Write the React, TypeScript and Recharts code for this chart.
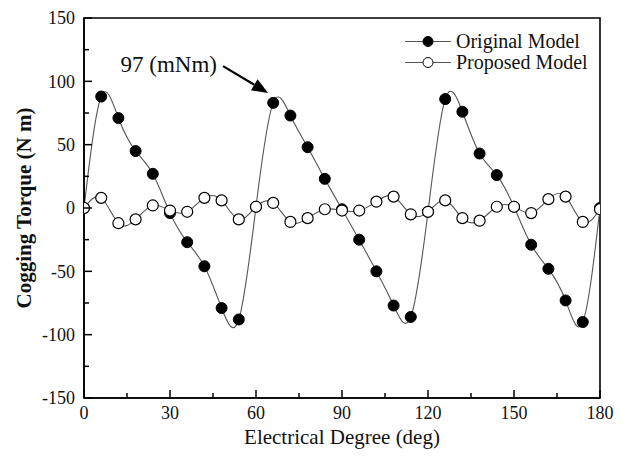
import React from 'react';
import { LineChart, Line, XAxis, YAxis, ReferenceArea, ReferenceLine, Legend } from 'recharts';

const FONT = '"Liberation Serif", "Times New Roman", serif';

const degrees = [0, 6, 12, 18, 24, 30, 36, 42, 48, 54, 60, 66, 72, 78, 84, 90, 96, 102, 108, 114, 120, 126, 132, 138, 144, 150, 156, 162, 168, 174, 180];
const originalModel = [0, 88, 71, 45, 27, -4, -27, -46, -79, -88, 1, 83, 73, 48, 23, -1, -25, -50, -77, -86, -3, 86, 76, 43, 26, 1, -29, -48, -73, -90, 0];
const proposedModel = [0, 8, -12, -9, 2, -2, -3, 8, 6, -9, 1, 4, -11, -8, -1, -2, -2, 5, 9, -5, -3, 6, -8, -10, 1, 1, -4, 7, 9, -11, -1];

const xTicks = [0, 15, 30, 45, 60, 75, 90, 105, 120, 135, 150, 165, 180];
const yTicks = [-150, -125, -100, -75, -50, -25, 0, 25, 50, 75, 100, 125, 150];
const xLabelStep = 30;
const yLabelStep = 50;

const annotationText = '97 (mNm)';
const arrowFrom = { x: 48.5, y: 112 };
const arrowTo = { x: 64.2, y: 90.8 };

const seriesNames = ['Original Model', 'Proposed Model'];

const data = degrees.map((d, i) => ({ deg: d, original: originalModel[i], proposed: proposedModel[i] }));

const X_TICK_MARGIN = 8;
const Y_TICK_MARGIN = 9;

const XTick = (props: any) => {
  const { x, y, payload } = props;
  const v = payload.value;
  const major = v % xLabelStep === 0;
  const axisY = y - X_TICK_MARGIN;
  return (
    <g>
      <line x1={x} y1={axisY} x2={x} y2={axisY - (major ? 8 : 5)} stroke="#000" strokeWidth={1.5} />
      {major && (
        <text x={x} y={y} dy="0.72em" textAnchor="middle" fontFamily={FONT} fontSize={18} fill="#111">{v}</text>
      )}
    </g>
  );
};

const YTick = (props: any) => {
  const { x, y, payload } = props;
  const v = payload.value;
  const major = v % yLabelStep === 0;
  const axisX = x + Y_TICK_MARGIN;
  return (
    <g>
      <line x1={axisX} y1={y} x2={axisX + (major ? 8 : 5)} y2={y} stroke="#000" strokeWidth={1.5} />
      {major && (
        <text x={x} y={y} dy="0.35em" textAnchor="end" fontFamily={FONT} fontSize={18} fill="#111">{v}</text>
      )}
    </g>
  );
};

const ArrowShape = (props: any) => {
  const { x1, y1, x2, y2 } = props;
  const dx = x2 - x1;
  const dy = y2 - y1;
  const len = Math.sqrt(dx * dx + dy * dy);
  const ux = dx / len;
  const uy = dy / len;
  const headLen = 16;
  const headW = 6.5;
  const bx = x2 - ux * headLen;
  const by = y2 - uy * headLen;
  const p1 = `${bx - uy * headW},${by + ux * headW}`;
  const p2 = `${bx + uy * headW},${by - ux * headW}`;
  return (
    <g>
      <line x1={x1} y1={y1} x2={bx} y2={by} stroke="#000" strokeWidth={2.2} />
      <polygon points={`${x2},${y2} ${p1} ${p2}`} fill="#000" />
      <text x={x1 - 6} y={y1 - 2} textAnchor="end" dominantBaseline="central" fontFamily={FONT} fontSize={23} fill="#111">{annotationText}</text>
    </g>
  );
};

const LegendContent = () => (
  <div style={{ fontFamily: FONT, fontSize: 20, color: '#111' }}>
    {seriesNames.map((name, i) => (
      <div key={name} style={{ display: 'flex', alignItems: 'center', height: 21 }}>
        <svg width={50} height={21} style={{ display: 'block' }}>
          <line x1={0} y1={10.5} x2={46} y2={10.5} stroke="#555" strokeWidth={1.2} />
          <circle cx={23} cy={10.5} r={5} fill={i === 0 ? '#000' : '#fff'} stroke="#000" strokeWidth={1} />
        </svg>
        <span style={{ marginLeft: 1, lineHeight: '21px', whiteSpace: 'nowrap' }}>{name}</span>
      </div>
    ))}
  </div>
);

export default function App() {
  return (
    <div style={{ position: 'absolute', left: 0, top: 0, width: 626, height: 459, background: '#fff' }}>
      <LineChart width={626} height={459} data={data} margin={{ top: 18, right: 26, bottom: 0, left: 0 }}>
        <ReferenceArea x1={0} x2={180} y1={-150} y2={150} fill="none" stroke="#000" strokeWidth={1.6} fillOpacity={0} />
        <XAxis
          dataKey="deg"
          type="number"
          domain={[0, 180]}
          allowDataOverflow
          ticks={xTicks}
          interval={0}
          height={61}
          tickSize={0}
          tickMargin={X_TICK_MARGIN}
          tickLine={false}
          axisLine={{ stroke: '#000', strokeWidth: 1.6 }}
          tick={<XTick />}
          label={(p: any) => {
            const vb = p.viewBox;
            return (
              <text x={vb.x + vb.width / 2} y={vb.y + 39} textAnchor="middle" dominantBaseline="central" fontFamily={FONT} fontSize={21} fill="#111">
                Electrical Degree (deg)
              </text>
            );
          }}
        />
        <YAxis
          type="number"
          domain={[-150, 150]}
          allowDataOverflow
          ticks={yTicks}
          interval={0}
          width={84}
          tickSize={0}
          tickMargin={Y_TICK_MARGIN}
          tickLine={false}
          axisLine={{ stroke: '#000', strokeWidth: 1.6 }}
          tick={<YTick />}
          label={(p: any) => {
            const vb = p.viewBox;
            const cx = vb.x + 24;
            const cy = vb.y + vb.height / 2;
            return (
              <text x={cx} y={cy} transform={`rotate(-90, ${cx}, ${cy})`} textAnchor="middle" dominantBaseline="central" fontFamily={FONT} fontSize={21} fontWeight="bold" fill="#111">
                Cogging Torque (N m)
              </text>
            );
          }}
        />
        <Legend
          layout="vertical"
          align="center"
          verticalAlign="middle"
          wrapperStyle={{ left: 405, top: 31, width: 200 }}
          content={<LegendContent />}
        />
        <Line
          type="natural"
          dataKey="original"
          name={seriesNames[0]}
          stroke="#555"
          strokeWidth={1.1}
          dot={{ r: 5.5, fill: '#000', stroke: '#000', strokeWidth: 1, clipDot: true }}
          activeDot={false}
          isAnimationActive={false}
        />
        <Line
          type="natural"
          dataKey="proposed"
          name={seriesNames[1]}
          stroke="#555"
          strokeWidth={1.1}
          dot={{ r: 5.5, fill: '#fff', stroke: '#000', strokeWidth: 1.2, clipDot: true }}
          activeDot={false}
          isAnimationActive={false}
        />
        <ReferenceLine segment={[arrowFrom, arrowTo]} shape={<ArrowShape />} />
      </LineChart>
    </div>
  );
}
